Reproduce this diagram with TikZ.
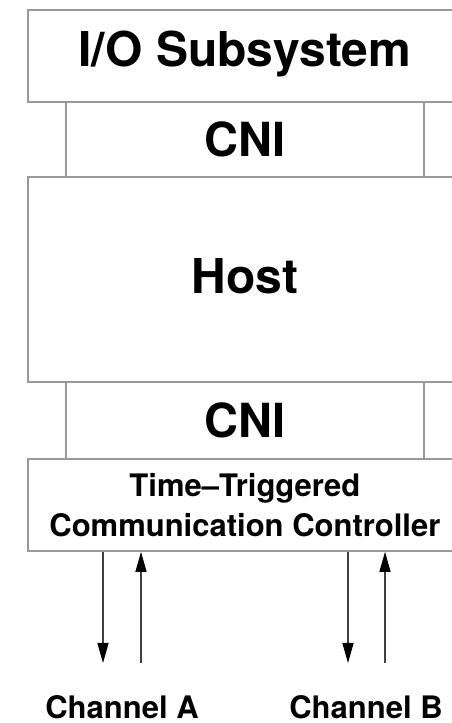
\documentclass[tikz,border=0pt]{standalone}
\usepackage{fontspec}
\setmainfont{TeX Gyre Heros}
\usetikzlibrary{arrows.meta}
\begin{document}
\begin{tikzpicture}[x=1pt,y=1pt,
  layer/.style={draw=black!40,line width=1.8pt,fill=white,inner sep=0pt,
    anchor=north west,font=\bfseries},
  big/.style={font=\bfseries\fontsize{48}{52}\selectfont},
  chan/.style={draw=black!75,line width=1.3pt},
  tip/.style={-{Triangle[length=20pt,width=11pt,color=black,fill=black]}},
  chanlabel/.style={font=\bfseries\fontsize{31}{34}\selectfont,anchor=base,inner sep=0pt}]
\useasboundingbox (0,0) rectangle (452,723);
% stacked layers: outer boxes span 27..461, the CNI boxes 65..423
\node[layer,big,minimum width=434pt,minimum height=92pt,text depth=14pt]
  (io) at (27,714) {I/O Subsystem};
\node[layer,big,font=\bfseries\fontsize{47}{52}\selectfont,minimum width=358pt,minimum height=75pt]
  (cni1) at (65,622) {CNI};
\node[layer,big,minimum width=434pt,minimum height=205pt,text depth=6pt]
  (host) at (27,547) {Host};
\node[layer,big,font=\bfseries\fontsize{47}{52}\selectfont,minimum width=358pt,minimum height=77pt]
  (cni2) at (65,342) {CNI};
\node[layer,minimum width=434pt,minimum height=92pt,align=center,
  font=\bfseries\fontsize{31}{40}\selectfont]
  (ttc) at (27,265) {Time--Triggered\\Communication Controller};
% free ends of the channel lines
\coordinate (a1) at (103,60);
\coordinate (a2) at (141,60);
\coordinate (b1) at (348,60);
\coordinate (b2) at (385,60);
\draw[chan,tip] (ttc.south west -| a1) -- (a1);
\draw[chan,tip] (a2) -- (ttc.south west -| a2);
\draw[chan,tip] (ttc.south west -| b1) -- (b1);
\draw[chan,tip] (b2) -- (ttc.south west -| b2);
\node[chanlabel] (ca) at (122,4.5) {Channel A};
\node[chanlabel] (cb) at (366,4.5) {Channel B};
\end{tikzpicture}
\end{document}
